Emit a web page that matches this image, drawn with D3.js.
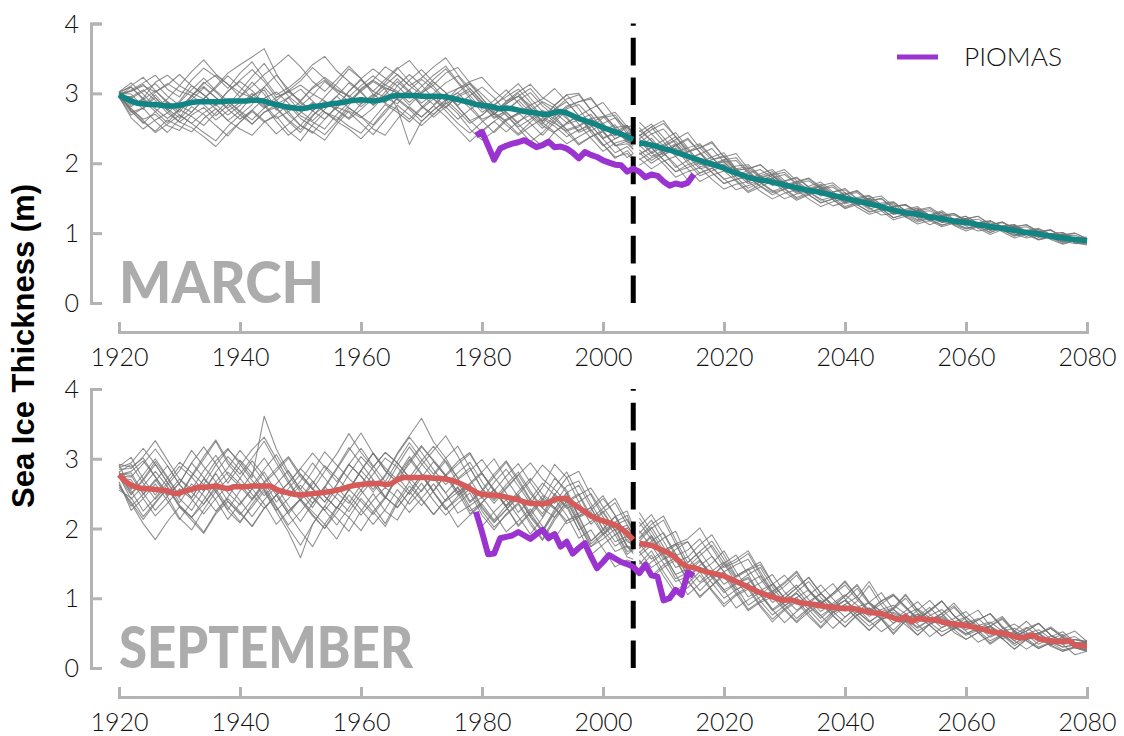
<!DOCTYPE html>
<html>
<head>
<meta charset="utf-8">
<script src="https://cdn.jsdelivr.net/npm/d3@7"></script>
<style>
  body { margin: 0; background: #fff; }
  svg { display: block; }
</style>
</head>
<body>
<svg id="chart" width="1124" height="736"></svg>
<script>
// ---------------------------------------------------------------
// Arctic sea ice thickness: large-ensemble members, ensemble mean,
// and the PIOMAS reanalysis, for March and September.
// Historical forcing runs to 2005, scenario forcing from 2006.
// ---------------------------------------------------------------

const xTicks = [1920, 1940, 1960, 1980, 2000, 2020, 2040, 2060, 2080];
const yTicks = [0, 1, 2, 3, 4];
const panelNames = ["MARCH", "SEPTEMBER"];
const legendLabel = "PIOMAS";
const yTitle = "Sea Ice Thickness (m)";
const splitYear = 2005;

// Ensemble mean, yearly: historical 1920-2005, scenario 2006-2080 (m)
const marchMeanHist = [
  2.98,2.93,2.89,2.86,2.85,2.84,2.84,2.83,2.82,2.82,
  2.83,2.85,2.87,2.88,2.88,2.88,2.88,2.88,2.89,2.89,
  2.89,2.89,2.90,2.90,2.89,2.86,2.84,2.82,2.80,2.79,
  2.78,2.79,2.81,2.82,2.83,2.85,2.86,2.87,2.89,2.90,
  2.91,2.90,2.89,2.90,2.92,2.96,2.97,2.97,2.97,2.97,
  2.96,2.96,2.96,2.96,2.95,2.93,2.91,2.89,2.87,2.84,
  2.83,2.82,2.80,2.78,2.79,2.78,2.76,2.74,2.73,2.72,
  2.70,2.70,2.73,2.74,2.72,2.68,2.64,2.61,2.58,2.55,
  2.51,2.48,2.45,2.42,2.38,2.34
];
const marchMeanFut = [
  2.29,2.28,2.26,2.24,
  2.21,2.19,2.16,2.13,2.10,2.07,2.04,2.01,1.99,1.96,
  1.93,1.89,1.86,1.83,1.80,1.78,1.76,1.75,1.73,1.71,
  1.69,1.67,1.65,1.63,1.61,1.60,1.58,1.56,1.54,1.52,
  1.50,1.48,1.46,1.44,1.42,1.40,1.38,1.35,1.33,1.31,
  1.29,1.28,1.27,1.25,1.23,1.22,1.21,1.19,1.17,1.16,
  1.15,1.14,1.12,1.11,1.09,1.08,1.07,1.05,1.04,1.02,
  1.01,1.00,0.99,0.97,0.96,0.94,0.93,0.92,0.91,0.90,0.89
];
const septMeanHist = [
  2.77,2.68,2.62,2.59,2.57,2.57,2.56,2.55,2.54,2.50,
  2.51,2.54,2.56,2.59,2.59,2.60,2.61,2.59,2.57,2.60,
  2.60,2.60,2.61,2.61,2.61,2.61,2.56,2.53,2.51,2.49,
  2.48,2.49,2.50,2.51,2.52,2.53,2.55,2.57,2.60,2.62,
  2.63,2.64,2.64,2.65,2.63,2.64,2.70,2.73,2.73,2.73,
  2.73,2.73,2.72,2.72,2.71,2.69,2.66,2.62,2.57,2.52,
  2.49,2.48,2.48,2.47,2.45,2.43,2.41,2.38,2.36,2.36,
  2.35,2.37,2.42,2.43,2.43,2.36,2.30,2.24,2.18,2.14,
  2.11,2.08,2.05,2.00,1.93,1.84
];
const septMeanFut = [
  1.79,1.77,1.76,1.72,
  1.68,1.64,1.58,1.50,1.45,1.44,1.41,1.38,1.36,1.34,
  1.32,1.28,1.24,1.20,1.16,1.12,1.08,1.05,1.02,0.99,
  0.97,0.98,0.95,0.93,0.92,0.91,0.89,0.88,0.87,0.86,
  0.85,0.86,0.84,0.82,0.80,0.79,0.78,0.75,0.72,0.69,
  0.74,0.66,0.71,0.70,0.69,0.69,0.66,0.64,0.63,0.62,
  0.61,0.59,0.57,0.55,0.52,0.51,0.50,0.48,0.45,0.43,
  0.45,0.47,0.42,0.40,0.39,0.38,0.38,0.39,0.33,0.32,0.32
];

// PIOMAS reanalysis, 1979-2015 (m)
const piomasYears = d3.range(1979, 2016);
const piomasMarch = [
  2.40,2.45,2.25,2.05,2.21,2.25,2.28,2.30,2.33,2.28,
  2.23,2.26,2.31,2.23,2.24,2.21,2.15,2.07,2.16,2.12,
  2.09,2.04,2.01,1.98,1.97,1.88,1.92,1.88,1.80,1.84,
  1.82,1.74,1.68,1.71,1.69,1.72,1.84
];
const piomasSept = [
  2.24,1.95,1.63,1.64,1.86,1.88,1.90,1.95,1.90,1.85,
  1.92,1.98,1.86,1.92,1.74,1.81,1.64,1.72,1.79,1.60,
  1.43,1.52,1.62,1.57,1.52,1.49,1.45,1.36,1.48,1.33,
  1.31,0.97,1.00,1.12,1.05,1.37,1.32
];

// Ensemble member years (every second year; historical ends at 2005)
const memberYearsHist = d3.range(1920, 2005, 2).concat([2005]);
const memberYearsFut = d3.range(2006, 2081, 2);

// Member departures from the ensemble mean, in cm
const marchHistDev = [
  [2,14,26,18,32,20,10,26,38,24,12, 4,-8,10,22,12,26,36,18,8,-6,8, 20,30,14,2,-12,4,16,26,10,-8,-18, -4,10,22,34,16,4,-12,6,20,12,4],
  [-3,-12,-22,-14,-28,-36,-18,-8,-26,-14,-2, 6,16,-6,-18,-30,-12,-2,10,-10,-24,-34, -16,-4,8,-14,-26,-10,4,-8,-22,-36,-18, -6,6,-12,-28,-16,-2,12,-4,-20,-10,-14],
  [4,20,8,32,44,28,14,4,22,40,52, 62,75,44,22,34,18,6,-8,14,28,14, 2,-12,8,24,10,-6,16,30,40,24,10, 20,4,-10,10,26,36,18,6,-6,14,8],
  [0,-8,8,-6,-18,-6,10,22,6,-12,-26, -14,4,18,6,-10,-22,-34,-16,-2,12,28, 14,-18,-70,-36,-20,-6,10,-4,-20,-10,6, 20,10,-4,-16,-26,-12,6,16,4,-8,-4],
  [-2,16,30,42,24,12,32,48,36,18,40, 55,32,14,28,44,60,70,46,28,12,-6, 10,24,6,-10,4,20,34,16,2,-14,-4, 14,28,12,-6,8,24,34,20,6,16,10],
  [3,-14,-26,-38,-20,-30,-42,-24,-10,-28,-40, -50,-30,-16,-34,-46,-26,-10,-20,-36,-48,-26, -8,-24,-38,-18,-4,-20,-34,-44,-24,-8,-20, -34,-14,4,-14,-28,-38,-20,-6,-18,-30,-20],
  [-4,6,-8,14,-4,-18,4,20,6,-10,6, 26,10,-8,14,28,8,-10,-24,-6,16,30, 16,4,22,38,20,6,-8,10,26,14,-6, -18,2,18,6,-8,-20,-6,14,24,8,4],
  [2,22,38,20,6,-10,8,28,14,-4,-20, -6,20,42,26,8,-6,12,28,46,30,10, -6,14,30,16,-4,-16,6,20,6,-10,10, 26,40,24,10,-6,-18,0,16,28,14,20],
  [-4,-20,-6,-24,-38,-20,-6,-18,-34,-50,-30, -14,-28,-42,-24,-6,6,-10,-26,-40,-56,-36, -20,-4,-18,-30,-14,4,-10,-26,-38,-20,-6, -20,-34,-46,-28,-14,4,-10,-24,-38,-20,-26],
  [2,10,-4,18,30,44,24,10,-6,14,28, 14,-4,-20,-6,10,28,40,24,6,-10,6, 24,38,50,30,14,-4,10,28,16,2,20, 38,20,4,-10,6,20,8,-14,-4,16,6],
  [-3,-16,-6,10,-6,-24,-14,4,-10,-28,-14, 6,20,6,-10,-24,-38,-20,-6,-16,-34,-48, -30,-14,-28,-42,-26,-8,-20,-38,-50,-34,-16, -4,-16,-30,-14,4,-8,-22,-34,-16,-4,-10],
  [4,26,14,-4,10,28,44,60,40,24,6, 20,38,56,75,60,36,20,34,50,30,14, 28,40,20,4,16,34,46,28,10,-6,8, 24,6,-10,4,20,34,18,4,-10,6,0],
  [-2,-10,-24,-40,-26,-14,-30,-44,-56,-36,-20, -34,-16,-4,-20,-34,-14,4,-10,-24,-6,10, -6,-20,-34,-16,0,-14,-28,-10,6,-10,-24, -36,-20,-6,-20,-34,-16,-4,-16,-30,-14,-20],
  [3,4,18,30,14,0,-14,4,20,36,20, 4,-10,6,24,10,-6,-20,-4,14,30,46, 30,14,-4,14,30,44,26,10,-6,10,26, 10,-6,-20,-6,10,24,36,20,6,-6,4],
  [-2,-24,-36,-22,-10,-24,-36,-50,-64,-46,-30, -16,-30,-14,4,-14,-28,-42,-26,-10,-24,-40, -52,-34,-16,-30,-14,-28,-42,-56,-36,-20,-34, -16,-4,-16,-30,-44,-26,-10,-24,-36,-24,-30],
  [0,14,28,10,-6,6,24,10,-4,14,30, 44,28,10,24,40,56,38,20,6,20,36, 20,6,-10,6,24,40,24,6,-10,4,16, 30,14,-4,10,26,14,-4,-16,0,16,10],
  [3,-6,6,20,4,-14,-30,-16,-4,-20,-6, 10,-6,-24,-40,-24,-6,6,-10,-26,-14,4, 16,4,-14,4,20,6,-10,-26,-14,4,-10, -24,-10,6,-6,-24,-36,-20,-4,10,-4,-6],
  [-2,20,6,-10,-24,-6,10,-4,-20,-6,14, 34,54,34,16,4,16,34,16,0,14,30, 46,30,14,26,42,56,36,20,4,-10,6, 20,34,16,0,-14,4,20,36,20,4,10],
  [1,-14,-28,-10,6,-6,-20,-34,-16,0,-14, -28,-10,6,-6,-24,-36,-50,-30,-14,-26,-10, 6,-6,-20,-36,-20,-4,-16,-30,-14,4,-10, -26,-42,-26,-10,-24,-10,6,-6,-20,-6,-14],
  [-1,6,20,6,-10,4,18,34,16,0,-16, -34,-16,0,14,-4,-20,-6,10,26,10,-6, 6,20,4,-14,-30,-14,4,16,0,-16,-4, 14,0,-14,4,16,4,-14,-26,-10,6,0]
];
const marchFutDev = [
  [18,6,-10,10,26,12,-4,12,22,8, -4,10,18,6,-6,6,15,4,-6,4, 12,3,-6,5,12,3,-5,6,12,4, -4,5,11,3,-5,3,9,3],
  [-14,-26,-10,6,-10,-22,-10,4,-10,-20, -6,5,-6,-16,-5,5,-6,-14,-3,6, -3,-11,-2,6,-3,-10,0,6,-3,-8, 2,8,-2,-8,0,6,-3,-5],
  [10,26,40,22,6,18,32,16,4,12, 22,10,-3,8,17,6,-5,6,14,5, -5,5,12,3,-6,3,11,3,-5,3, 9,2,-6,3,9,2,-5,2],
  [-6,10,-6,-22,-6,10,-4,-16,-4,10, -4,-13,-3,8,-2,-11,-2,8,0,-8, 2,9,0,-8,2,8,-2,-8,0,6, -2,-8,0,6,-2,-6,2,-2],
  [30,16,4,18,34,18,6,16,28,12, 4,12,22,10,0,10,18,8,-2,8, 15,6,-3,6,14,5,-3,5,12,3, -3,5,11,3,-3,5,9,3],
  [-22,-34,-18,-6,-18,-30,-16,-4,-12,-22, -10,2,-10,-18,-6,3,-6,-15,-5,3, -6,-14,-5,3,-5,-12,-3,3,-5,-11, -2,5,-3,-9,-2,3,-5,-6],
  [6,-10,6,22,10,-6,6,18,6,-6, 6,15,3,-6,3,12,3,-6,3,11, 2,-6,3,9,2,-5,3,9,2,-5, 3,8,0,-5,3,8,0,2],
  [16,30,16,0,12,24,10,-3,10,18, 6,-3,6,15,5,-5,5,14,3,-5, 5,12,3,-5,3,11,3,-3,3,9, 2,-3,3,8,2,-3,3,5],
  [-24,-10,-22,-36,-22,-10,-22,-30,-16,-6, -16,-24,-12,-3,-12,-20,-9,0,-9,-15, -6,2,-6,-14,-5,2,-6,-12,-3,3, -5,-11,-3,2,-5,-9,-2,-3],
  [12,-3,12,28,12,-3,10,22,6,-3, 9,18,6,-3,6,15,5,-5,5,12, 3,-3,5,11,2,-5,3,9,2,-3, 3,8,2,-3,3,8,0,3],
  [-10,-22,-6,10,-6,-18,-6,6,-6,-16, -3,6,-5,-14,-3,6,-3,-12,-2,6, -3,-11,-2,5,-3,-9,-2,5,-2,-8, 0,5,-2,-8,0,5,-2,-3],
  [6,22,36,22,6,18,30,16,4,12, 22,10,0,9,18,8,-2,6,15,5, -3,5,12,3,-3,5,11,3,-3,3, 9,3,-3,3,8,2,-3,2],
  [-16,-4,-16,-28,-12,0,-12,-22,-9,2, -9,-18,-6,3,-6,-15,-5,3,-5,-12, -3,3,-5,-11,-2,3,-5,-9,-2,3, -3,-8,-2,3,-3,-8,-2,-2],
  [0,16,28,12,-3,9,22,9,-3,6, 15,6,-3,6,14,5,-3,5,12,3, -3,5,11,3,-3,3,9,3,-3,3, 8,2,-3,3,8,2,-3,0],
  [-32,-18,-6,-18,-34,-18,-6,-15,-24,-12, -3,-12,-20,-9,-2,-9,-15,-6,2,-6, -12,-5,2,-5,-11,-3,2,-5,-9,-3, 2,-5,-8,-2,2,-5,-6,-3],
  [10,26,10,-6,6,22,9,-3,6,15, 5,-5,5,14,5,-3,5,12,3,-3, 3,11,3,-3,3,9,2,-3,3,8, 2,-3,2,6,2,-3,2,3],
  [-3,-16,-3,12,0,-12,-3,9,0,-9, 0,9,0,-8,0,8,0,-8,0,8, 0,-6,0,6,0,-6,0,6,0,-5, 0,5,0,-5,0,5,0,0],
  [22,6,-6,9,24,12,0,9,18,6, -3,6,15,5,-3,5,12,3,-3,5, 11,3,-3,3,9,3,-3,3,8,2, -2,3,8,2,-2,3,6,2],
  [-16,-3,-16,-28,-16,-3,-12,-22,-9,0, -9,-15,-6,2,-6,-14,-5,2,-5,-11, -3,3,-3,-9,-2,3,-3,-8,-2,3, -3,-6,-2,3,-2,-6,-2,-2],
  [3,-12,3,16,3,-9,0,12,3,-6, 3,11,2,-6,2,9,2,-6,2,8, 0,-5,2,8,0,-5,2,6,0,-5, 2,6,0,-3,2,5,0,0]
];
const septHistDev = [
  [15,26,44,18,-6,14,38,58,32,8,30, 52,70,44,18,-8,14,38,18,-6,20,44, 24,0,20,44,26,6,-14,8,32,52,26, 4,-18,6,30,12,-12,8,32,14,-6,4],
  [-18,-24,-44,-20,4,-18,-40,-24,-4,-26,-50, -30,-8,-32,-56,-90,-44,-20,4,-20,-44,-24, -4,-26,-50,-30,-8,-32,-14,6,-18,-38,-18, 4,-20,-40,-20,0,-24,-44,-26,-6,-26,-14],
  [12,40,14,-8,18,44,24,4,30,56,36, 12,100,58,30,8,32,58,36,12,-8,14, 38,18,-6,18,40,62,38,14,-6,18,40, 20,0,24,50,30,8,-12,12,32,12,6],
  [-2,-14,12,36,12,-14,8,-12,-36,-12,12, -12,-32,-8,14,-8,-32,-52,-26,-4,-24,-44, -20,4,-20,-40,-18,6,-14,-36,-12,8,-14, -36,-12,12,-12,-32,-8,12,-12,-30,-8,-12],
  [10,32,58,36,12,38,18,-6,20,46,24, 0,24,50,26,4,-20,6,30,52,74,44, 20,-4,24,46,24,4,26,50,30,6,-14, 8,32,56,32,8,-12,12,36,14,-6,6],
  [-14,-30,-8,14,-8,-36,-58,-32,-8,-32,-52, -26,-4,-26,-50,-72,-44,-20,-40,-64,-38,-14, -38,-58,-32,-8,-32,-52,-30,-6,-30,-50,-24, -4,-26,-50,-26,-4,-24,-44,-20,0,-20,-18],
  [0,18,-6,-30,-8,14,38,14,-8,14,38, 18,-6,-30,-8,14,-6,-26,-6,18,40,20, -4,20,44,20,0,-20,4,26,50,26,6, -18,6,30,6,-14,8,32,12,-8,12,8],
  [4,-12,14,40,18,-6,18,40,64,36,12, 36,14,-8,14,38,18,-6,-26,-4,20,44, 20,-4,-24,0,24,4,-18,6,30,8,-12, 12,36,14,-6,18,38,18,-4,-24,-4,-8],
  [-14,-26,-50,-72,-44,-20,-40,-64,-38,-14,-36, -58,-32,-8,-30,-52,-76,-46,-24,-44,-66,-40, -18,-40,-20,4,-20,-44,-24,0,-24,-46,-26, -6,-30,-52,-30,-8,-32,-56,-34,-14,-34,-28],
  [8,24,46,70,44,20,0,24,44,20,0, -20,4,26,50,26,6,-14,8,32,12,-8, 14,38,60,85,52,30,6,30,8,-12,12, 36,58,36,14,-6,18,40,20,0,20,14],
  [-4,8,-14,-38,-18,6,-14,-38,-18,4,-20, -44,-20,4,-18,-38,-14,8,-12,-36,-14,6, -18,-40,-20,4,-20,-40,-64,-38,-14,-36,-12, 8,-14,-38,-18,4,-20,-40,-18,4,-18,-12],
  [14,-6,20,44,20,-4,20,44,66,40,18, 40,64,38,14,38,58,36,12,32,52,26, 4,26,50,26,6,30,52,30,8,-8,14, 36,14,-6,18,38,18,-4,18,38,18,12],
  [-10,-36,-14,8,-14,-38,-18,4,-20,-44,-24, -4,-26,-50,-26,-6,-30,-52,-32,-12,-36,-58, -36,-14,-38,-18,4,-20,-44,-24,-4,-26,-50, -30,-8,-32,-56,-32,-12,-36,-14,4,-20,-14],
  [2,14,-8,12,36,12,-12,12,36,58,32, 8,-14,8,32,8,-14,8,32,56,30,6, -18,6,30,6,-18,6,30,52,30,6,30, 52,30,6,-14,8,32,12,-12,12,32,18],
  [-2,-20,4,26,6,-18,-40,-18,6,-18,-40, -20,0,-24,-46,-24,-4,-26,-50,-30,-8,-32, -56,-30,-6,-30,-52,-30,-8,-32,-12,8,-14, -38,-14,8,-12,-36,-14,6,-18,-38,-18,-20],
  [4,30,8,-14,8,32,56,30,6,30,52, 30,6,-18,6,30,8,-14,8,32,12,-12, 12,36,58,36,12,-8,14,38,18,-6,18, 40,18,-6,-26,-4,20,0,-20,4,26,8],
  [-2,-8,-32,-12,12,-8,-30,-6,18,-6,-26, -4,20,-4,-26,-6,18,-6,-26,-4,20,0, -20,4,26,4,-20,-44,-20,4,-20,-40,-18, 6,-18,-38,-14,8,-14,-36,-12,12,-12,-6],
  [0,20,40,18,-4,20,-4,-24,0,24,4, -18,6,30,52,30,6,30,52,76,46,24, 46,24,0,24,46,24,0,-20,4,26,50, 26,4,-18,6,30,52,30,6,-14,8,6],
  [-22,-18,-40,-18,4,-20,-44,-66,-40,-18,-38, -58,-32,-8,-30,-6,-26,-46,-70,-44,-20,-40, -60,-34,-12,-32,-52,-30,-6,-26,-46,-24,-4, -24,-44,-20,0,-24,-44,-20,-40,-60,-38,-32],
  [-2,12,36,58,36,12,-12,12,-8,-30,-6, 18,40,18,-4,20,44,20,-4,-24,0,24, 46,24,0,-20,4,26,6,-18,6,30,52, 30,6,-14,8,-12,-32,-8,14,-8,-30,-14]
];
const septFutDev = [
  [30,8,-12,12,36,14,-6,18,38,18, -4,18,36,18,0,18,34,14,-4,14, 30,12,-6,12,28,12,-6,12,26,8, -6,8,22,8,-6,8,20,6],
  [-24,-44,-20,0,-20,-38,-18,4,-14,-32, -12,6,-12,-28,-8,6,-12,-26,-8,6, -8,-22,-6,6,-8,-20,-6,6,-6,-16, -3,6,-6,-14,-3,6,-4,-8],
  [44,20,0,20,40,60,36,12,28,48, 26,6,24,42,20,4,20,40,18,0, 18,34,14,-3,14,30,12,-3,12,26, 8,-3,12,22,8,-3,8,6],
  [-8,12,-8,-30,-8,12,-6,-24,-3,14, -3,-20,-3,12,-3,-18,0,12,-3,-14, 0,12,-3,-14,0,12,-2,-12,0,8, -2,-10,0,8,-2,-8,0,-3],
  [14,36,14,-6,14,36,55,30,8,26, 44,20,3,20,38,18,0,18,36,14, -3,14,30,12,-3,12,26,8,-4,8, 22,8,-4,8,18,6,-3,3],
  [-36,-14,-36,-52,-30,-8,-26,-44,-20,-3, -20,-36,-14,0,-18,-32,-12,3,-14,-26, -8,3,-12,-24,-6,3,-12,-20,-6,3, -8,-18,-4,3,-8,-14,-4,-8],
  [6,26,6,-14,6,26,6,-12,8,26, 8,-8,8,24,6,-8,6,20,6,-6, 6,18,4,-6,6,18,4,-6,4,14, 3,-6,4,13,3,-4,3,4],
  [-14,6,26,6,-14,6,24,6,-12,6, 24,6,-8,6,20,6,-8,6,18,44, 18,3,-8,3,18,3,-8,3,14,3, -8,3,13,3,-6,3,12,2],
  [-44,-24,-3,-24,-40,-20,-3,-20,-38,-18, 0,-18,-32,-14,3,-14,-30,-12,3,-12, -26,-8,3,-8,-24,-8,3,-8,-20,-6, 3,-6,-18,-4,3,-4,-14,-8],
  [24,44,24,3,24,44,24,6,24,40, 20,3,20,38,18,3,18,34,14,0, 14,32,12,0,12,30,12,0,12,26, 8,0,8,22,8,0,8,4],
  [-18,0,-18,-34,-14,3,-14,-32,-12,6, -12,-26,-8,6,-8,-24,-6,6,-8,-20, -6,6,-6,-18,-6,6,-4,-14,-3,6, -3,-13,-3,4,-3,-12,-3,-4],
  [36,14,-3,18,36,14,-3,14,32,52, 30,8,26,44,20,3,20,38,18,3, 18,32,14,0,14,30,12,0,12,26, 10,0,8,22,8,0,8,6],
  [-30,-8,-30,-46,-24,-3,-24,-40,-18,0, -18,-32,-12,3,-14,-30,-8,3,-12,-26, -8,3,-8,-24,-6,3,-8,-20,-6,3, -8,-18,-4,3,-6,-14,-3,-6],
  [3,24,44,20,0,20,40,18,-3,18, 36,14,-3,14,32,12,-3,12,30,12, -3,12,26,8,-3,8,24,8,-3,8, 20,6,-3,6,18,6,-3,8],
  [-12,-32,-12,6,-12,-30,-8,6,-8,-26, -6,8,-6,-24,-6,8,-6,-20,-3,6, -6,-18,-3,6,-4,-14,-3,6,-3,-13, -2,4,-3,-12,-2,4,-2,-3],
  [18,-3,18,38,14,-3,14,36,14,-3, 14,32,12,-3,12,30,12,-3,12,38, 12,-3,8,24,8,-3,8,20,6,-3, 6,18,6,-3,6,14,4,3],
  [-6,14,-6,-24,-3,14,-3,-20,-3,12, -3,-18,0,12,-3,-14,0,12,-3,-14, 0,8,-3,-12,0,8,-3,-12,0,8, 0,-10,0,8,0,-8,0,-2],
  [8,30,50,26,6,26,46,24,6,24, 40,20,3,20,38,18,3,18,34,14, 3,14,32,12,0,12,30,12,0,12, 24,8,0,8,20,8,0,4],
  [-26,-46,-24,-3,-20,-40,-18,0,-18,-34, -14,0,-14,-30,-12,3,-12,-26,-8,3, -8,-24,-6,3,-8,-20,-6,3,-6,-18, -4,3,-6,-14,-3,3,-4,-6],
  [0,-20,0,20,0,-18,3,20,3,-14, 3,18,3,-12,3,18,3,-12,3,14, 3,-8,3,14,3,-8,3,12,3,-8, 3,12,3,-8,3,10,2,0]
];

// ---------------------------------------------------------------
const svg = d3.select("#chart");
const W = 1124, H = 736;
svg.append("rect").attr("width", W).attr("height", H).attr("fill", "#fff");

const FONT = "Lato, 'Open Sans', 'DejaVu Sans', sans-serif";
const AXIS_GREY = "#b3b3b3";

const x = d3.scaleLinear().domain([1920, 2080]).range([119, 1087]);

const panels = [
  {
    name: panelNames[0],
    y: d3.scaleLinear().domain([0, 4]).range([303, 23.5]),
    xAxisY: 332,
    meanHist: marchMeanHist, meanFut: marchMeanFut,
    histDev: marchHistDev, futDev: marchFutDev,
    piomas: piomasMarch,
    meanColor: "#118484",
    nameLength: 205,
    legend: true
  },
  {
    name: panelNames[1],
    y: d3.scaleLinear().domain([0, 4]).range([668, 389]),
    xAxisY: 697,
    meanHist: septMeanHist, meanFut: septMeanFut,
    histDev: septHistDev, futDev: septFutDev,
    piomas: piomasSept,
    meanColor: "#d65a58",
    nameLength: 294,
    legend: false
  }
];

panels.forEach(p => {
  const g = svg.append("g");
  const y = p.y;
  const meanAt = yr => yr <= splitYear ? p.meanHist[yr - 1920] : p.meanFut[yr - 2006];

  const line = d3.line().x(d => x(d[0])).y(d => y(d[1]));

  // panel name in large grey letters
  g.append("text")
    .attr("x", x(1920))
    .attr("y", y(0))
    .attr("font-family", "Lato, 'Liberation Sans', sans-serif")
    .attr("font-weight", 900)
    .attr("font-size", 58)
    .attr("fill", "#acacac")
    .attr("textLength", p.nameLength)
    .attr("lengthAdjust", "spacingAndGlyphs")
    .text(p.name);

  // axes
  const yAxis = d3.axisLeft(y).tickValues(yTicks).tickFormat(d3.format("d"))
    .tickSizeInner(-11).tickSizeOuter(-11).tickPadding(12);
  const gy = g.append("g").attr("transform", "translate(91,0)").call(yAxis);

  const xAxis = d3.axisBottom(x).tickValues(xTicks).tickFormat(d3.format("d"))
    .tickSizeInner(-10).tickSizeOuter(-10).tickPadding(16);
  const gx = g.append("g").attr("transform", `translate(0,${p.xAxisY})`).call(xAxis);

  [gx, gy].forEach(a => {
    a.select(".domain").attr("stroke", AXIS_GREY).attr("stroke-width", 3).attr("fill", "none");
    a.selectAll(".tick line").attr("stroke", AXIS_GREY).attr("stroke-width", 3);
    a.selectAll(".tick text")
      .attr("font-family", FONT).attr("font-weight", 300)
      .attr("font-size", 25).attr("fill", "#111");
  });
  gy.selectAll(".tick text").attr("dy", "0.34em");

  // ensemble members: historical and scenario segments drawn separately
  const members = g.append("g")
    .attr("fill", "none").attr("stroke", "#737373")
    .attr("stroke-width", 1.05).attr("stroke-opacity", 0.8)
    .attr("stroke-linejoin", "round");
  p.histDev.forEach(dev => {
    const pts = memberYearsHist.slice(0, dev.length).map((yr, i) => [yr, meanAt(yr) + dev[i] / 100]);
    members.append("path").attr("d", line(pts));
  });
  p.futDev.forEach(dev => {
    const pts = memberYearsFut.slice(0, dev.length).map((yr, i) => [yr, meanAt(yr) + dev[i] / 100]);
    members.append("path").attr("d", line(pts));
  });

  // 2005 boundary between historical and scenario forcing (dashes run upward from 0)
  g.append("line")
    .attr("x1", x(splitYear)).attr("x2", x(splitYear))
    .attr("y1", y(0)).attr("y2", y(4))
    .attr("stroke", "#000").attr("stroke-width", 5)
    .attr("stroke-dasharray", "27.6,12");

  // ensemble mean
  const histMean = p.meanHist.map((v, i) => [1920 + i, v]);
  const futMean = p.meanFut.map((v, i) => [2006 + i, v]);
  [histMean, futMean].forEach(seg => {
    g.append("path").attr("d", line(seg))
      .attr("fill", "none").attr("stroke", p.meanColor)
      .attr("stroke-width", 5.5).attr("stroke-linejoin", "round");
  });

  // PIOMAS
  g.append("path")
    .attr("d", line(piomasYears.map((yr, i) => [yr, p.piomas[i]])))
    .attr("fill", "none").attr("stroke", "#9b33d0")
    .attr("stroke-width", 6).attr("stroke-linejoin", "round");

  if (p.legend) {
    const lg = g.append("g");
    lg.append("line").attr("x1", 897).attr("x2", 938).attr("y1", 57).attr("y2", 57)
      .attr("stroke", "#9b33d0").attr("stroke-width", 5);
    lg.append("text").attr("x", 964).attr("y", 66)
      .attr("font-family", FONT).attr("font-weight", 300)
      .attr("font-size", 25).attr("fill", "#111")
      .attr("textLength", 98).attr("lengthAdjust", "spacingAndGlyphs")
      .text(legendLabel);
  }
});

// shared y-axis title
svg.append("text")
  .attr("transform", "translate(34,346) rotate(-90)")
  .attr("text-anchor", "middle")
  .attr("font-family", "'Liberation Sans', Arial, sans-serif")
  .attr("font-weight", 700)
  .attr("font-size", 31)
  .attr("fill", "#000")
  .text(yTitle);
</script>
</body>
</html>
